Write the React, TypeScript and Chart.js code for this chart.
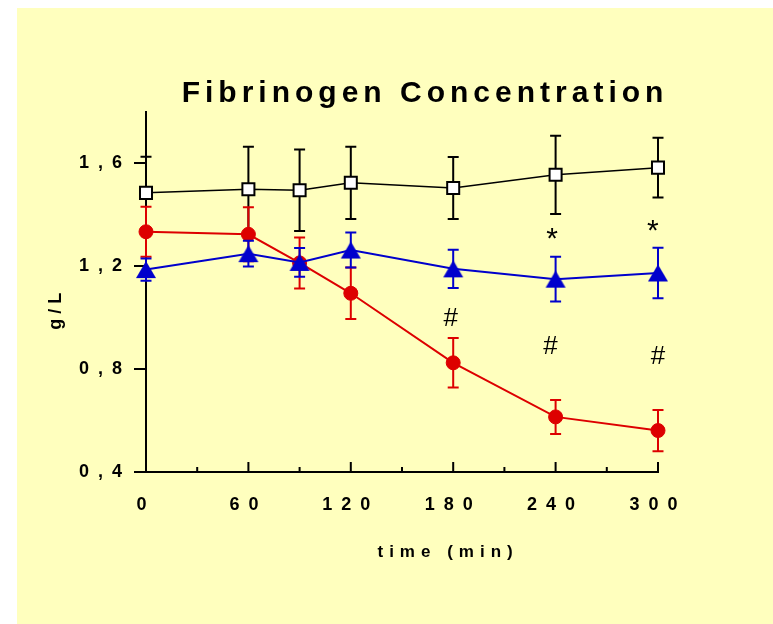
import React, { useEffect, useRef } from 'react';
import { Chart, registerables } from 'chart.js';

Chart.register(...registerables);

// ---- data ----
const times = [0, 60, 90, 120, 180, 240, 300];
const controlValues = [1.484, 1.498, 1.494, 1.523, 1.503, 1.554, 1.582];
const controlErrors = [0.14, 0.165, 0.158, 0.14, 0.12, 0.152, 0.116];
const redValues = [1.333, 1.323, 1.212, 1.094, 0.824, 0.614, 0.561];
const redErrors = [0.097, 0.105, 0.099, 0.1, 0.096, 0.066, 0.08];
const blueValues = [1.186, 1.248, 1.214, 1.262, 1.189, 1.149, 1.173];
const blueErrors = [0.043, 0.05, 0.056, 0.068, 0.074, 0.087, 0.098];

const xTicks = [0, 60, 120, 180, 240, 300];
const xMinorTicks = [30, 90, 150, 210, 270];
const yTicks = [0.4, 0.8, 1.2, 1.6];

const markTexts = ['*', '*', '#', '#', '#'];
const markX = [238, 297, 178.5, 237, 300];
const markY = [1.327, 1.359, 1.001, 0.893, 0.854];

const titleText = 'Fibrinogen Concentration';
const xTitle = 'time (min)';
const yTitle = 'g/L';

const BLUE = '#0000CC';
const RED = '#DD0000';
const BLACK = '#000000';
const BG = '#FFFFBE';
const FONT = '"Liberation Sans", Arial, Helvetica, sans-serif';

const toPoints = (vals: number[]) => vals.map((v, i) => ({ x: times[i], y: v }));

const errorBarPlugin = {
  id: 'errorBars',
  beforeDatasetDraw(chart: any, args: any) {
    const ds = chart.data.datasets[args.index];
    const errs: number[] | undefined = ds.errors;
    if (!errs) return;
    const ctx = chart.ctx;
    const ys = chart.scales.y;
    ctx.save();
    ctx.strokeStyle = ds.borderColor;
    ctx.lineWidth = 2;
    args.meta.data.forEach((pt: any, i: number) => {
      const v = ds.data[i].y;
      const e = errs[i];
      const top = ys.getPixelForValue(v + e);
      const bot = ys.getPixelForValue(v - e);
      const x = pt.x;
      ctx.beginPath();
      ctx.moveTo(x, top);
      ctx.lineTo(x, bot);
      ctx.moveTo(x - 5.5, top);
      ctx.lineTo(x + 5.5, top);
      ctx.moveTo(x - 5.5, bot);
      ctx.lineTo(x + 5.5, bot);
      ctx.stroke();
    });
    ctx.restore();
  },
};

const decorPlugin = {
  id: 'decor',
  beforeDraw(chart: any) {
    chart.ctx.letterSpacing = '9px';
  },
  beforeDatasetsDraw(chart: any) {
    const ctx = chart.ctx;
    const xs = chart.scales.x;
    const bottom = chart.chartArea.bottom;
    ctx.save();
    ctx.letterSpacing = '0px';
    ctx.strokeStyle = BLACK;
    ctx.lineWidth = 2;
    ctx.beginPath();
    xTicks.forEach((v) => {
      const px = xs.getPixelForValue(v);
      ctx.moveTo(px, bottom);
      ctx.lineTo(px, bottom - 10);
    });
    xMinorTicks.forEach((v) => {
      const px = xs.getPixelForValue(v);
      ctx.moveTo(px, bottom);
      ctx.lineTo(px, bottom - 5);
    });
    ctx.stroke();
    ctx.restore();
  },
  afterDatasetsDraw(chart: any) {
    const ctx = chart.ctx;
    const xs = chart.scales.x;
    const ys = chart.scales.y;
    ctx.save();
    ctx.letterSpacing = '0px';
    ctx.fillStyle = BLACK;
    ctx.textAlign = 'center';
    ctx.textBaseline = 'alphabetic';
    markTexts.forEach((t, i) => {
      ctx.font = t === '*' ? `30px ${FONT}` : `26px ${FONT}`;
      const m = ctx.measureText(t);
      const px = xs.getPixelForValue(markX[i]);
      const py = ys.getPixelForValue(markY[i]);
      const off = (m.actualBoundingBoxAscent - m.actualBoundingBoxDescent) / 2;
      ctx.fillText(t, px, py + off);
    });
    ctx.restore();
  },
  afterDraw(chart: any) {
    const ctx = chart.ctx;
    const ca = chart.chartArea;
    ctx.save();
    ctx.fillStyle = BLACK;
    ctx.textBaseline = 'alphabetic';
    ctx.textAlign = 'center';
    // main title
    ctx.letterSpacing = '5px';
    ctx.font = `bold 30px ${FONT}`;
    ctx.fillText(titleText, ca.left + 0.545 * (ca.right - ca.left), ca.top - 9.5);
    // x title
    ctx.letterSpacing = '6px';
    ctx.font = `bold 17px ${FONT}`;
    ctx.textBaseline = 'middle';
    ctx.fillText(xTitle, ca.left + 0.59 * (ca.right - ca.left), ca.bottom + 80);
    // y title
    ctx.letterSpacing = '5px';
    ctx.font = `bold 18px ${FONT}`;
    ctx.translate(ca.left - 90, (ca.top + ca.bottom) / 2 + 17);
    ctx.rotate(-Math.PI / 2);
    ctx.fillText(yTitle, 0, 0);
    ctx.restore();
  },
};

export default function App() {
  const ref = useRef<HTMLCanvasElement>(null);

  useEffect(() => {
    const tri = document.createElement('canvas');
    tri.width = 22;
    tri.height = 19;
    const t = tri.getContext('2d')!;
    t.fillStyle = BLUE;
    t.beginPath();
    t.moveTo(11, 1);
    t.lineTo(21, 18);
    t.lineTo(1, 18);
    t.closePath();
    t.fill();

    const chart = new Chart(ref.current!, {
      type: 'line',
      data: {
        datasets: [
          {
            label: 'blue',
            data: toPoints(blueValues),
            errors: blueErrors,
            borderColor: BLUE,
            backgroundColor: BLUE,
            borderWidth: 2,
            pointStyle: tri,
            pointRadius: 10,
            clip: false,
          } as any,
          {
            label: 'red',
            data: toPoints(redValues),
            errors: redErrors,
            borderColor: RED,
            backgroundColor: RED,
            pointBackgroundColor: RED,
            pointBorderColor: RED,
            borderWidth: 2,
            pointBorderWidth: 1,
            pointStyle: 'circle',
            pointRadius: 7,
            clip: false,
          } as any,
          {
            label: 'control',
            data: toPoints(controlValues),
            errors: controlErrors,
            borderColor: BLACK,
            backgroundColor: '#FFFFFF',
            pointBackgroundColor: '#FFFFFF',
            pointBorderColor: BLACK,
            borderWidth: 1.5,
            pointBorderWidth: 2,
            pointStyle: 'rect',
            pointRadius: 8.5,
            clip: false,
          } as any,
        ],
      },
      options: {
        responsive: false,
        animation: false,
        events: [],
        layout: { padding: { left: 29, right: 115, top: 103.5, bottom: 92 } },
        plugins: {
          legend: { display: false },
          title: { display: false },
          tooltip: { enabled: false },
        },
        scales: {
          x: {
            type: 'linear',
            min: 0,
            max: 300,
            afterBuildTicks: (scale: any) => {
              scale.ticks = xTicks.map((v) => ({ value: v }));
            },
            afterFit: (scale: any) => {
              scale.height = 60;
            },
            grid: { display: false, drawTicks: false },
            border: { display: true, color: BLACK, width: 2 },
            ticks: {
              autoSkip: false,
              maxRotation: 0,
              padding: 22,
              color: BLACK,
              font: { family: FONT, size: 18, weight: 'bold' },
              callback: (v: any) => String(v),
            },
          },
          y: {
            type: 'linear',
            min: 0.4,
            max: 1.8,
            afterBuildTicks: (scale: any) => {
              scale.ticks = yTicks.map((v) => ({ value: v }));
            },
            afterFit: (scale: any) => {
              scale.width = 100;
            },
            grid: {
              display: true,
              drawOnChartArea: false,
              drawTicks: true,
              tickLength: 12,
              color: BLACK,
              lineWidth: 2,
            },
            border: { display: true, color: BLACK, width: 2 },
            ticks: {
              padding: 3,
              color: BLACK,
              font: { family: FONT, size: 18, weight: 'bold' },
              callback: (v: any) => Number(v).toFixed(1).replace('.', ','),
            },
          },
        },
      },
      plugins: [errorBarPlugin, decorPlugin],
    } as any);

    return () => chart.destroy();
  }, []);

  return (
    <div style={{ position: 'fixed', left: 17, top: 8 }}>
      <canvas
        ref={ref}
        width={756}
        height={616}
        style={{ display: 'block', background: BG }}
      />
    </div>
  );
}
